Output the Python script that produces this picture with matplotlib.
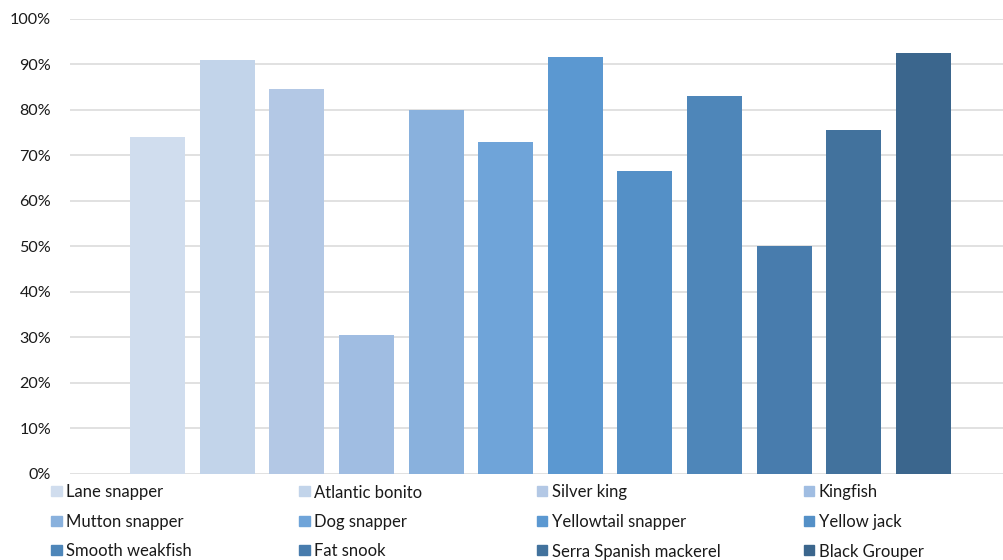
import matplotlib
matplotlib.use("Agg")
import matplotlib.pyplot as plt
from matplotlib.patches import Rectangle
from matplotlib.ticker import FuncFormatter

plt.rcParams['font.family'] = ['Lato', 'DejaVu Sans']

species = ["Lane snapper", "Atlantic bonito", "Silver king", "Kingfish",
           "Mutton snapper", "Dog snapper", "Yellowtail snapper", "Yellow jack",
           "Smooth weakfish", "Fat snook", "Serra Spanish mackerel", "Black Grouper"]
values = [74.0, 90.9, 84.6, 30.5, 80.0, 72.9, 91.6, 66.5, 83.0, 50.1, 75.6, 92.5]
colors = ["#D0DDEE", "#C2D4EA", "#B3C8E5", "#A0BDE2", "#89B1DD", "#6FA4D9",
          "#5B98D1", "#5490C7", "#4E86B9", "#487CAD", "#42729D", "#3B668D"]
yticks = [0, 10, 20, 30, 40, 50, 60, 70, 80, 90, 100]

W, H = 1004, 560
fig = plt.figure(figsize=(W / 100, H / 100), dpi=100)
# plot area runs slightly past the right edge of the canvas
ax = fig.add_axes([70 / W, (H - 473.8) / H, 941 / W, 455 / H])

for i, (v, c) in enumerate(zip(values, colors)):
    ax.bar(i, v, width=0.79, color=c, zorder=3)

ax.set_xlim(-1.257, 12.257)
ax.set_ylim(0, 100)
ax.set_yticks(yticks)
ax.yaxis.set_major_formatter(FuncFormatter(lambda v, p: f"{v:.0f}%"))
ax.set_xticks([])
ax.tick_params(axis='y', length=0, pad=13.5, labelsize=11.6, labelcolor="#1A1A1A")
ax.grid(axis='y', color="#D9D9D9", linewidth=1.1, zorder=0)
for s in ax.spines.values():
    s.set_visible(False)

# legend: 3 rows x 4 columns
col_x = [51, 299, 537, 804]
row_y = [491, 521, 550]
sq = 10.5
for k, (name, c) in enumerate(zip(species, colors)):
    r, cidx = divmod(k, 4)
    x0 = col_x[cidx]
    yc = row_y[r]
    fig.patches.append(Rectangle((x0 / W, (H - yc - sq / 2) / H), sq / W, sq / H,
                                 transform=fig.transFigure, color=c))
    fig.text((x0 + 15) / W, (H - yc) / H, name, fontsize=12, color="#1A1A1A",
             va='center_baseline', ha='left')

fig.savefig("out.png", dpi=100)
